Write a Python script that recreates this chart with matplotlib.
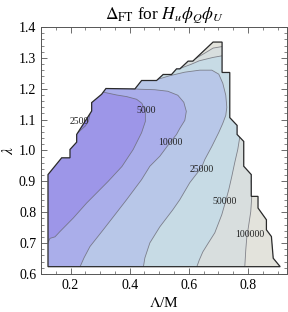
import matplotlib
matplotlib.use("Agg")
import matplotlib.pyplot as plt
from matplotlib.patches import Polygon
from matplotlib.ticker import MultipleLocator

plt.rcParams['font.family'] = ['Liberation Serif', 'DejaVu Serif']
plt.rcParams['mathtext.fontset'] = 'stix'

# outline of the scanned region (Lambda/M, lambda)
edge_x = [0.1236, 0.1236, 0.1699, 0.1980, 0.1980, 0.2206, 0.2206, 0.2713, 0.2713, 0.3050,
          0.3196, 0.4176, 0.4402, 0.4909, 0.5132, 0.5416, 0.5584, 0.5696, 0.5976, 0.6135,
          0.6820, 0.7124, 0.7124, 0.7385, 0.7385, 0.7632, 0.7632, 0.7857, 0.7857, 0.8111,
          0.8111, 0.8340, 0.8340, 0.8624, 0.8624, 0.8793, 0.8854, 0.9090]
edge_y = [0.6237, 0.9220, 0.9763, 0.9763, 1.0033, 1.0270, 1.0520, 1.1278, 1.1551, 1.1821,
          1.2007, 1.1994, 1.2267, 1.2267, 1.2462, 1.2462, 1.2644, 1.2644, 1.2894, 1.2894,
          1.3512, 1.3512, 1.2527, 1.2527, 1.1064, 1.0813, 1.0520, 1.0293, 0.9490, 0.9220,
          0.8514, 0.8514, 0.8137, 0.7756, 0.7431, 0.7213, 0.6511, 0.6237]

# contour lines of Delta_FT
c2500_x = [0.2233, 0.2351, 0.2503, 0.2605, 0.2655]
c2500_y = [1.0559, 1.0667, 1.0797, 1.0943, 1.1171]

c5000_x = [0.3128, 0.3557, 0.3895, 0.4233, 0.4412, 0.4530, 0.4530, 0.4402, 0.4118, 0.3736,
           0.3263, 0.2993, 0.2544, 0.2091, 0.1642, 0.1473, 0.1304, 0.1220]
c5000_y = [1.1886, 1.1798, 1.1746, 1.1659, 1.1529, 1.1268, 1.0943, 1.0576, 1.0033, 0.9480,
           0.8992, 0.8732, 0.8299, 0.7812, 0.7376, 0.7203, 0.7155, 0.6992]

c10000_x = [0.4074, 0.4344, 0.4851, 0.5290, 0.5628, 0.5830, 0.5915, 0.5864, 0.5695, 0.5584,
            0.5358, 0.5020, 0.4682, 0.4402, 0.3895, 0.3500, 0.3104, 0.2655, 0.2453, 0.2318]
c10000_y = [1.2003, 1.1984, 1.1968, 1.1919, 1.1789, 1.1561, 1.1268, 1.0976, 1.0716, 1.0520,
            1.0251, 0.9815, 0.9490, 0.9057, 0.8407, 0.7919, 0.7431, 0.6888, 0.6520, 0.6228]

c25000_x = [0.4952, 0.5358, 0.5864, 0.6371, 0.6777, 0.7013, 0.7148, 0.7250, 0.7284, 0.7250,
            0.7148, 0.7013, 0.6777, 0.6540, 0.6429, 0.6270, 0.6033, 0.5695, 0.5459, 0.5020,
            0.4682, 0.4513, 0.4463]
c25000_y = [1.2306, 1.2423, 1.2537, 1.2602, 1.2602, 1.2472, 1.2179, 1.1789, 1.1398, 1.1138,
            1.0878, 1.0585, 1.0130, 0.9707, 0.9447, 0.9252, 0.8959, 0.8407, 0.8081, 0.7529,
            0.7008, 0.6520, 0.6228]

c50000a_x = [0.5730, 0.6091, 0.6348, 0.6821, 0.7125]
c50000a_y = [1.2667, 1.2797, 1.2904, 1.3015, 1.3067]
c50000b_x = [0.7722, 0.7655, 0.7553, 0.7452, 0.7351, 0.7250, 0.7114, 0.6878, 0.6641, 0.6473,
             0.6354, 0.6270]
c50000b_y = [1.0429, 1.0033, 0.9610, 0.9155, 0.8732, 0.8374, 0.7919, 0.7334, 0.6976, 0.6716,
             0.6455, 0.6234]

c100000a_x = [0.6236, 0.6540, 0.6821, 0.7125]
c100000a_y = [1.2985, 1.3154, 1.3317, 1.3366]
c100000b_x = [0.8111, 0.8128, 0.8094, 0.8027, 0.7959, 0.7926, 0.7892]
c100000b_y = [0.9025, 0.8504, 0.8016, 0.7594, 0.7171, 0.6780, 0.6228]

label_text = ['2500', '5000', '10000', '25000', '50000', '100000']
label_x = [0.230, 0.457, 0.536, 0.643, 0.722, 0.806]
label_y = [1.095, 1.128, 1.025, 0.938, 0.835, 0.727]

col_low = '#8c82e1'
col_bands = ['#9d96e8', '#aaaeea', '#b8c7e8', '#c7dbe5', '#d8dede', '#e3e3dc']


def beyond(cx, cy, side):
    # polygon covering the high-value side of a contour line
    if side == 'right':
        px = [cx[0]] + cx + [cx[-1], 2, 2]
        py = [2] + cy + [-1, -1, 2]
    else:
        px = cx + [cx[-1] + 0.01, cx[-1] + 0.01, cx[0]]
        py = cy + [cy[-1], 2, 2]
    return list(zip(px, py))


fig = plt.figure(figsize=(2.88, 3.12), dpi=100)
ax = fig.add_axes([0.1424, 0.1218, 0.8541, 0.7917])

region = Polygon(list(zip(edge_x, edge_y)), closed=True, facecolor=col_bands[0],
                 edgecolor='none', zorder=1)
ax.add_patch(region)

fills = [
    (c5000_x, c5000_y, 'right', col_bands[1]),
    (c10000_x, c10000_y, 'right', col_bands[2]),
    (c25000_x, c25000_y, 'right', col_bands[3]),
    (c50000a_x, c50000a_y, 'top', col_bands[4]),
    (c50000b_x, c50000b_y, 'right', col_bands[4]),
    (c100000a_x, c100000a_y, 'top', col_bands[5]),
    (c100000b_x, c100000b_y, 'right', col_bands[5]),
]
for cx, cy, side, c in fills:
    p = Polygon(beyond(cx, cy, side), closed=True, facecolor=c, edgecolor='none', zorder=2)
    ax.add_patch(p)
    p.set_clip_path(region)

low = Polygon(list(zip(c2500_x, c2500_y)), closed=True, facecolor=col_low,
              edgecolor='none', zorder=2)
ax.add_patch(low)
low.set_clip_path(region)

for cx, cy in [(c2500_x, c2500_y), (c5000_x, c5000_y), (c10000_x, c10000_y),
               (c25000_x, c25000_y), (c50000a_x, c50000a_y), (c50000b_x, c50000b_y),
               (c100000a_x, c100000a_y), (c100000b_x, c100000b_y)]:
    ln, = ax.plot(cx, cy, color='#6a6a74', lw=0.6, alpha=0.8, zorder=3)
    ln.set_clip_path(region)

ax.add_patch(Polygon(list(zip(edge_x, edge_y)), closed=True, facecolor='none',
                     edgecolor='#2a2a2a', lw=0.9, zorder=4))

for t, x, y in zip(label_text, label_x, label_y):
    ax.text(x, y, t, fontsize=7, ha='center', va='center', color='#222222', zorder=5)

ax.set_xlim(0.1, 0.932)
ax.set_ylim(0.6, 1.4)
ax.xaxis.set_major_locator(MultipleLocator(0.2))
ax.xaxis.set_minor_locator(MultipleLocator(0.05))
ax.yaxis.set_major_locator(MultipleLocator(0.1))
ax.yaxis.set_minor_locator(MultipleLocator(0.02))
ax.tick_params(which='both', direction='in', top=True, right=True, labelsize=10,
               color='#555555')
ax.tick_params(which='major', length=4, width=0.6)
ax.tick_params(which='minor', length=2, width=0.5)
for s in ax.spines.values():
    s.set_color('#555555')
    s.set_linewidth(0.7)

ax.set_title(r'$\Delta_{\rm FT}$ for $H_u\phi_Q\phi_U$', fontsize=12.5, pad=6)
ax.set_xlabel(r'$\Lambda$/M', fontsize=11, labelpad=3)
ax.set_ylabel(r'$\lambda$', fontsize=11, labelpad=2)

fig.savefig('out.png', dpi=100)
